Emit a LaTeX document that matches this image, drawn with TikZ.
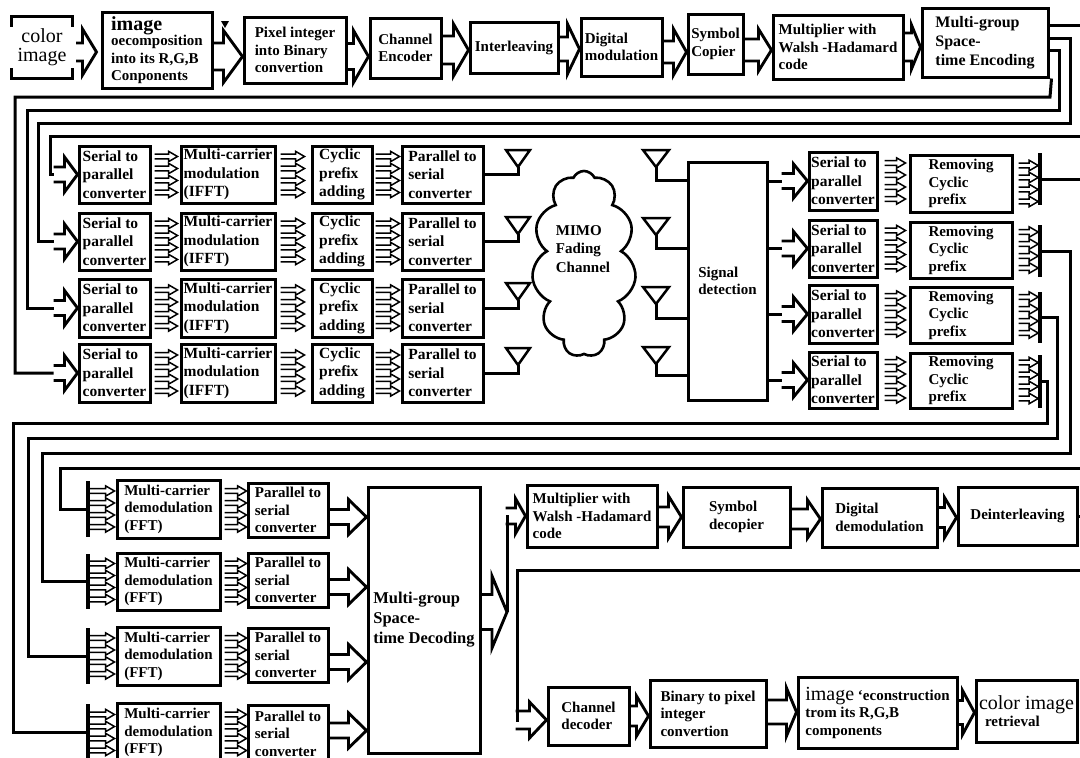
\documentclass[tikz,border=0pt]{standalone}
\usepackage{fontspec}
\setmainfont{Liberation Serif}
\usetikzlibrary{calc,shapes.symbols}
\newcommand\bx[7][]{%
  \pgfmathsetmacro\bxw{#5-#3}\pgfmathsetmacro\bxh{#6-#4}%
  \node[box,minimum width=\bxw pt,minimum height=\bxh pt,#1] (#2) at ({(#3+#5)/2},{(#4+#6)/2}) {#7};}
\newcommand\fourarr[4]{\foreach \qq in {-18,-6,6,18}{\draw[sa] ([xshift=#3pt,yshift=\qq pt]#1.east) to ([xshift=#4pt]#2.west);}}
\begin{document}
\begin{tikzpicture}[x=1pt,y=-1pt,
  box/.style={draw,line width=3pt,align=left,inner sep=1pt,font=\bfseries\fontsize{15}{17.5}\selectfont},
  rowbox/.style={font=\bfseries\fontsize{15.5}{18.5}\selectfont},
  wire/.style={line width=3pt,line join=miter},
  fat/.style n args={3}{to path={let \p1=(\tikztostart),\p2=(\tikztotarget) in (\x1,\y1+#1pt) -- (\x2-#3pt,\y1+#1pt) -- (\x2-#3pt,\y1+#2pt) -- (\x2,\y1) -- (\x2-#3pt,\y1-#2pt) -- (\x2-#3pt,\y1-#1pt) -- (\x1,\y1-#1pt)}},
  fa/.style={line width=2.9pt,line join=miter},
  sa/.style={line width=1.5pt,line join=miter,fat={2.4}{5.2}{9}},
  bar/.style={fill=black,inner sep=0pt,minimum width=3.2pt},
  ant/.style={line width=2.5pt,line join=miter}]
\useasboundingbox (0,0) rectangle (1080,758);
\fill[white] (0,0) rectangle (1080,758);

% ---------- row 1 ----------
\node[minimum width=60pt,minimum height=61pt,inner sep=0pt,align=center,font=\fontsize{20}{19}\selectfont] (src) at (42,47.5) {color\\image};
\draw[wire] ([yshift=-10pt]src.north west) -- (src.north west) -- (src.north east) -- ([yshift=-10pt]src.north east);
\draw[wire] ([yshift=10pt]src.south west) -- (src.south west) -- (src.south east) -- ([yshift=10pt]src.south east);

\bx{dec}{102}{12}{212}{88}{{\fontsize{20}{20}\selectfont image}\\[-2pt]oecomposition\\into its R,G,B\\Conponents}
\bx{pix}{244}{17}{346}{83}{Pixel integer\\into Binary\\convertion}
\bx{ce}{370}{18}{441}{78}{Channel\\Encoder}
\bx{il}{470}{22}{558}{73}{Interleaving}
\bx{dm}{581}{18}{662}{76}{Digital\\modulation}
\bx{sc}{688}{14}{743}{74}{Symbol\\Copier}
\bx{mw}{773}{15}{903}{79}{Multiplier with\\Walsh -Hadamard\\code}
\bx[font=\bfseries\fontsize{16}{19}\selectfont]{st}{922}{8}{1048}{77}{Multi-group\\Space-\\time Encoding}

\draw[fa,fat={9}{23}{14}] ([xshift=4pt,yshift=-4.5pt]src.east) to ([xshift=-4pt]dec.west);
\draw[fa,fat={13.5}{26}{19}] ([yshift=-6.5pt]dec.east) to (pix.west);
\draw[fa,fat={13}{26}{15}] ([yshift=-6.5pt]pix.east) to (ce.west);
\draw[fa,fat={14}{26}{15}] ([yshift=-2pt]ce.east) to (il.west);
\draw[fa,fat={12}{25}{12}] ([yshift=-1.5pt]il.east) to (dm.west);
\draw[fa,fat={11}{23}{13}] ([yshift=-5pt]dm.east) to (sc.west);
\draw[fa,fat={11}{21}{13}] ([yshift=-6pt]sc.east) to (mw.west);
\draw[fa,fat={14}{22}{9}] (mw.east) to (st.west);
\fill (221,21) -- (229,21) -- (225,28) -- cycle;

% ---------- transmitter rows ----------
\foreach \i/\t/\b in {1/146/203,2/213/270,3/279/337,4/344/402}{
  \bx[rowbox]{sp\i}{79}{\t}{150}{\b}{Serial to\\parallel\\converter}
  \bx[rowbox]{md\i}{181}{\t}{275}{\b}{Multi-carrier\\modulation\\(IFFT)}
  \bx[rowbox]{cp\i}{312}{\t}{372}{\b}{Cyclic\\prefix\\adding}
  \bx[rowbox]{ps\i}{402}{\t}{483}{\b}{Parallel to\\serial\\converter}
  \fourarr{sp\i}{md\i}{3}{-2}
  \fourarr{md\i}{cp\i}{4}{-6}
  \fourarr{cp\i}{ps\i}{2}{-1}
  \draw[fa,fat={7.5}{17.5}{13}] ([xshift=-24pt]sp\i.west) to (sp\i.west);
  \coordinate (ta\i) at (518,\t+21);
  \draw[ant] (ta\i) -- ++(-12,-17) -- ++(24,0) -- cycle;
  \draw[wire] (ps\i.east) -| (ta\i);
}

\draw[wire] ([yshift=17.5pt]st.east) -- ++(50,0) |- (50,136) |- ([xshift=-24pt]sp1.west);
\draw[wire] ([yshift=4.5pt]st.east) -| (1070,123) -- (38,123) |- ([xshift=-24pt]sp2.west);
\draw[wire] ([yshift=-7.5pt]st.east) -| (1059,110) -- (27,110) |- ([xshift=-24pt]sp3.west);
\draw[wire] ([xshift=2pt]st.south east) -- (1050,97) -- (15,97) |- ([xshift=-24pt]sp4.west);

% ---------- channel ----------
\node[cloud,draw,line width=2.6pt,cloud puffs=11,cloud puff arc=130,aspect=0.5,minimum width=104pt,minimum height=186pt,inner sep=0pt] (cl) at (584,264) {};
\node[font=\bfseries\fontsize{15}{18.5}\selectfont,align=left] (clt) at (583,249) {MIMO\\Fading\\Channel};

% ---------- receiver rows ----------
\bx{sd}{688}{162}{767}{400}{Signal\\detection}
\foreach \i/\a/\j in {1/167/180,2/235/248,3/304/318,4/364/375}{
  \coordinate (ra\i) at (656,\a);
  \coordinate (rj\i) at (656,\j);
  \draw[ant] (ra\i) -- ++(-13,-17) -- ++(26,0) -- cycle;
  \draw[wire] (ra\i) -- (rj\i) -- (sd.west |- rj\i);
}
\foreach \i/\t/\b/\ct/\cb/\bt/\bb in {1/152/210/155/212/153/205,2/220/277/222/278/225/277,3/285/343/287/343/292/343,4/352/408/353/408/355/408}{
  \bx[rowbox]{rsp\i}{809}{\t}{877}{\b}{Serial to\\parallel\\converter}
  \bx{rcp\i}{910}{\ct}{1012}{\cb}{Removing\\Cyclic\\prefix}
  \node[bar,minimum height={\bb-\bt}] (rb\i) at (1040,{(\bt+\bb)/2}) {};
  \fourarr{rsp\i}{rcp\i}{6}{-3}
  \fourarr{rcp\i}{rb\i}{5}{0}
  \draw[wire] (sd.east |- rsp\i) -- ([xshift=-26pt]rsp\i.west);
  \draw[fa,fat={7.5}{17}{14}] ([xshift=-26pt]rsp\i.west) to (rsp\i.west);
}

% ---------- demodulation ----------
\bx[font=\bfseries\fontsize{16.5}{20}\selectfont]{std}{368}{487}{480}{753}{Multi-group\\Space-\\time Decoding}
\foreach \i/\t/\b/\pt/\pb/\ys in {1/480/538/483/537/-7,2/553/610/553/607/-7,3/627/685/628/682/-7,4/703/762/705/762/3}{
  \node[bar,minimum height={\b-\t-2}] (db\i) at (88,{(\t+\b)/2}) {};
  \bx{dmd\i}{117}{\t}{220}{\b}{Multi-carrier\\demodulation\\(FFT)}
  \bx{rps\i}{248}{\pt}{328}{\pb}{Parallel to\\serial\\converter}
  \fourarr{db\i}{dmd\i}{0}{-1}
  \fourarr{dmd\i}{rps\i}{3}{0}
  \draw[fa,fat={7.5}{17.5}{18}] ([yshift=\ys pt]rps\i.east) to (std.west);
}

\draw[wire] (rb1.east) -- ++(60,0) |- (60,468) |- (db1.west);
\draw[wire] (rb2.east) -| (1070,453) -- (42,453) |- (db2.west);
\draw[wire] (rb3.east) -| (1057,438) -- (28,438) |- (db3.west);
\draw[wire] (rb4.east) -| (1047,423) -- (13,423) |- (db4.west);

% ---------- final chain ----------
\bx{rmw}{527}{485}{657}{547}{Multiplier with\\Walsh -Hadamard\\code}
\bx{sdc}{683}{487}{790}{547}{Symbol\\decopier}
\bx{ddm}{822}{488}{937}{547}{Digital\\demodulation}
\bx{dil}{958}{487}{1077}{545}{Deinterleaving}
\bx{cd}{548}{687}{629}{745}{Channel\\decoder}
\bx{btp}{650}{680}{766}{747}{Binary to pixel\\integer\\convertion}
\bx{rec}{798}{677}{957}{748}{{\fontsize{20}{20}\selectfont\mdseries image} ‘econstruction\\trom its R,G,B\\components}
\bx{ret}{976}{680}{1077}{742}{{\fontsize{20}{20}\selectfont\mdseries color image}\\\hspace*{6pt}retrieval}

\coordinate (jn) at (507,612);
\draw[fa,fat={17.5}{36}{15}] ([yshift=8pt]std.east) to (jn);
\draw[wire] (jn) |- ([xshift=-20pt]rmw.west);
\draw[fa,fat={8}{17.5}{10}] ([xshift=-20pt]rmw.west) to (rmw.west);
\draw[fa,fat={10}{21}{13}] ([yshift=-1pt]rmw.east) to (sdc.west);
\draw[fa,fat={10}{19}{13}] ([yshift=-2pt]sdc.east) to (ddm.west);
\draw[fa,fat={10}{20}{12}] (ddm.east) to (dil.west);
\draw[wire] (dil.east) -- ++(20,0) |- (517,570) |- ([xshift=-31pt,yshift=-4pt]cd.west);
\draw[fa,fat={9}{18}{17}] ([xshift=-31pt,yshift=-4pt]cd.west) to (cd.west);
\draw[fa,fat={10}{20}{12}] (cd.east) to (btp.west);
\draw[fa,fat={12}{24}{10}] ([yshift=1.5pt]btp.east) to (rec.west);
\draw[fa,fat={12}{22}{12}] (rec.east) to (ret.west);
\end{tikzpicture}
\end{document}
